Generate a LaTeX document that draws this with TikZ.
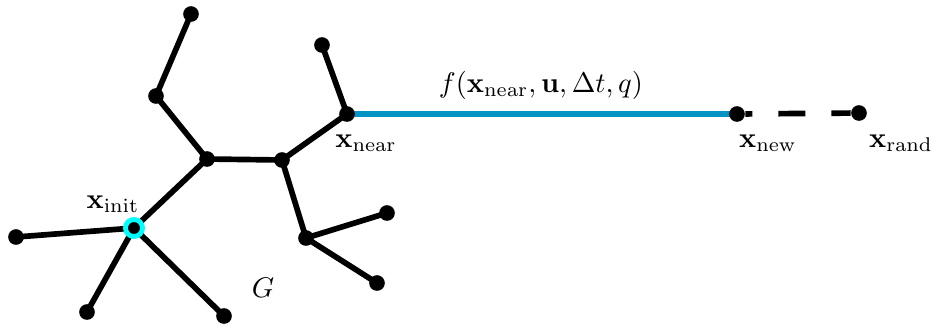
\documentclass[tikz,border=0pt]{standalone}
\usepackage{amsmath}
\usepackage{tikz}
\usetikzlibrary{positioning,backgrounds}
\definecolor{RRTBlue}{HTML}{0093C4}
\definecolor{RRTCyan}{HTML}{00FFFF}
\tikzset{
  vertex/.style={circle,fill=black,inner sep=0pt,minimum size=5.8pt},
  rootvertex/.style={vertex,draw=RRTCyan,line width=1.8pt,minimum size=6.3pt},
  branch/.style={black,line width=2.1pt},
  extend/.style={RRTBlue,line width=2.1pt},
  towards/.style={black,line width=2.1pt,dash pattern=on 10pt off 9.6pt,dash phase=7.4pt},
  vlabel/.style={inner sep=1pt,scale=1.05},
}

\begin{document}
\begin{tikzpicture}[x=0.37pt,y=-0.37pt]
    \useasboundingbox (0,0) rectangle (932,327);
    % tree G
    \node[vertex] (top)   at (191,14) {};
    \node[vertex] (elbow) at (156,96) {};
    \node[vertex] (hubA)  at (207,159) {};
    \node[vertex] (hubB)  at (282,160) {};
    \node[vertex] (spur)  at (322,45) {};
    \node[vertex] (near)  at (347,114) {};
    \node[rootvertex] (init) at (134,228) {};
    \node[vertex] (left)  at (16,237) {};
    \node[vertex] (low)   at (87,312) {};
    \node[vertex] (lowR)  at (224,316) {};
    \node[vertex] (fork)  at (306,238) {};
    \node[vertex] (forkU) at (387,213) {};
    \node[vertex] (forkD) at (377,283) {};
    % new and random samples
    \node[vertex] (new)   at (737,114) {};
    \node[vertex] (rand)  at (859,113) {};
    \begin{scope}[on background layer]
      \foreach \a/\b in {top/elbow,elbow/hubA,hubA/hubB,hubA/init,hubB/near,spur/near,
                         hubB/fork,fork/forkU,fork/forkD,init/left,init/low,init/lowR}
        \draw[branch] (\a.center) -- (\b.center);
      \draw[extend] (near.center) -- (new.center);
    \end{scope}
    \draw[towards] (new) -- (rand);
    % labels
    \node[vlabel] (initlbl) at (113,204) {$\mathbf{x}_{\mathrm{init}}$};
    \node[vlabel] (nearlbl) at (366,143) {$\mathbf{x}_{\mathrm{near}}$};
    \node[vlabel] (newlbl)  at (768,143) {$\mathbf{x}_{\mathrm{new}}$};
    \node[vlabel] (randlbl) at (901,143) {$\mathbf{x}_{\mathrm{rand}}$};
    \node[vlabel] (flbl)    at (541,85)  {$f(\mathbf{x}_{\mathrm{near}},\mathbf{u},\Delta t,q)$};
    \node[vlabel] (glbl)    at (263,288) {$G$};
\end{tikzpicture}
\end{document}
